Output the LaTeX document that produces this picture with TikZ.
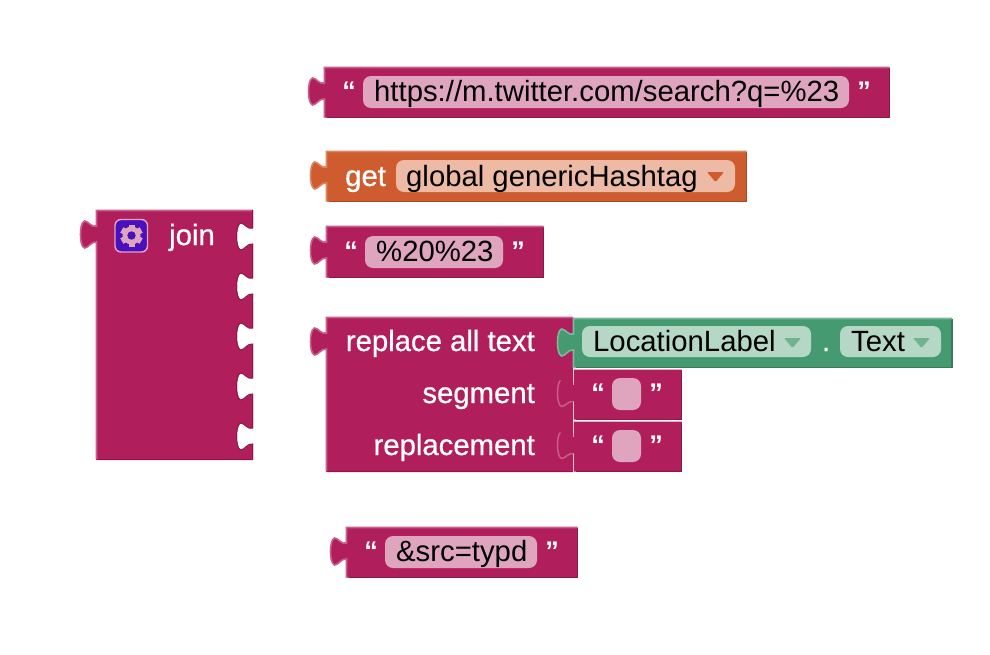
\documentclass[tikz,border=0pt]{standalone}
\usepackage{fontspec}
\setmainfont{Liberation Sans}
\newfontfamily\wfont[RawFeature={embolden=0.7}]{Liberation Sans}
\definecolor{txtb}{HTML}{B01F5B}
\definecolor{txtl}{HTML}{C9608C}
\definecolor{txtd}{HTML}{8C1848}
\definecolor{txtp}{HTML}{E0A5BE}
\definecolor{varb}{HTML}{CE5C2E}
\definecolor{varl}{HTML}{DD8560}
\definecolor{vard}{HTML}{A54A25}
\definecolor{varp}{HTML}{EDBBA5}
\definecolor{grnb}{HTML}{459A71}
\definecolor{grnl}{HTML}{7DB89B}
\definecolor{grnd}{HTML}{377B5A}
\definecolor{grnp}{HTML}{B5D7C6}
\definecolor{mutb}{HTML}{4A10BE}
\definecolor{arrg}{HTML}{6FB391}
\tikzset{
  x=1pt,y=-1pt,
  wlabel/.style={text=white,inner sep=0pt,font=\wfont\fontsize{29.3}{32}\selectfont},
  blabel/.style={text=black,inner sep=0pt,font=\fontsize{29.3}{32}\selectfont},
  quotemark/.style={text=white,inner sep=0pt,font=\bfseries\fontsize{27}{30}\selectfont},
  pill/.style={rounded corners=8pt},
}
% puzzle tab running downward, from (x,y) to (x,y+27) with bulb to the left
\newcommand{\tabdown}[2]{-- (#1,#2+5) .. controls ({#1-5},#2+7) and ({#1-8},#2) .. ({#1-12},#2) .. controls ({#1-15},#2+1) and ({#1-16},#2+8) .. ({#1-16},#2+13.5) .. controls ({#1-16},#2+19) and ({#1-15},#2+26) .. ({#1-12},#2+27) .. controls ({#1-8},#2+27) and ({#1-5},#2+20) .. (#1,#2+21) -- (#1,#2+27)}
% the same tab, running upward
\newcommand{\tabup}[2]{-- (#1,#2+21) .. controls ({#1-5},#2+20) and ({#1-8},#2+27) .. ({#1-12},#2+27) .. controls ({#1-15},#2+26) and ({#1-16},#2+19) .. ({#1-16},#2+13.5) .. controls ({#1-16},#2+8) and ({#1-15},#2+1) .. ({#1-12},#2) .. controls ({#1-8},#2) and ({#1-5},#2+7) .. (#1,#2+5) -- (#1,#2)}
% \plainblock{x1}{y1}{x2}{y2}{base}
\newcommand{\plainblock}[5]{%
  \fill[#5b] (#1,#2) -- (#3,#2) -- (#3,#4) -- (#1,#4) -- (#1,#2+37.5) \tabup{#1}{#2+10.5} -- cycle;
  \draw[#5d,line width=1.8pt] (#1+2,#4) -- (#3,#4) -- (#3,#2);
  \draw[#5l,line width=1.6pt] (#3,#2) -- (#1,#2) -- (#1,#2+10.5) \tabdown{#1}{#2+10.5} -- (#1,#4);
}
% child text block plugged into a socket
\newcommand{\childblock}[4]{%
  \fill[txtb] (#1,#2) -- (#3,#2) -- (#3,#4) -- (#1,#4) -- (#1,#2+37.5) \tabup{#1}{#2+10.5} -- cycle;
  \draw[txtd,line width=1.8pt] (#1+2,#4) -- (#3,#4) -- (#3,#2);
  \draw[txtl,line width=1.4pt] ({#1-13},#2+11) .. controls ({#1-15},#2+12) and ({#1-16},#2+18) .. ({#1-16},#2+24) .. controls ({#1-16},#2+29) and ({#1-15},#2+36) .. ({#1-12},#2+37) .. controls ({#1-8},#2+37) and ({#1-5},#2+31) .. (#1,#2+32);
  \draw[white!60!txtl,line width=1.2pt] (#1,#2) -- (#1,#2+12) (#1,#2+32) -- (#1,#4);
}
\newcommand{\pillarrow}[3]{\fill[#3,rounded corners=1pt] (#1,#2) -- (#1+17,#2) -- (#1+8.5,#2+10) -- cycle;}
\begin{document}
\begin{tikzpicture}
\useasboundingbox (0,0) rectangle (990,654);
\fill[white] (0,0) rectangle (990,654);

% URL text block
\plainblock{324.5}{67.5}{889.5}{117.5}{txt}
\fill[txtp,pill] (363,76) rectangle (849,108);
\node[blabel,anchor=base west] (url) at (374,101) {https://m.twitter.com/search?q=\%23};
\node[quotemark] (urlq1) at (349,91) {“};
\node[quotemark] (urlq2) at (864,91) {”};

% get block
\plainblock{326.5}{151.5}{746.5}{201.5}{var}
\fill[varp,pill] (396,160) rectangle (735,192);
\node[wlabel,anchor=base west] (get) at (345,186) {get};
\node[blabel,anchor=base west] (globalvar) at (406,186) {global genericHashtag};
\pillarrow{707}{172}{varb}

% %20%23 block
\plainblock{326.5}{226.5}{543.5}{277.5}{txt}
\fill[txtp,pill] (365,236) rectangle (503,268);
\node[blabel,anchor=base west] (sep) at (376,261) {\%20\%23};
\node[quotemark] (sepq1) at (351,251) {“};
\node[quotemark] (sepq2) at (518,251) {”};

% join block
\fill[txtb] (96,210) -- (253,210)
  -- (253,223) \tabdown{253}{223} -- (253,273) \tabdown{253}{273}
  -- (253,323) \tabdown{253}{323} -- (253,373) \tabdown{253}{373}
  -- (253,423) \tabdown{253}{423} -- (253,460) -- (96,460) -- (96,248)
  \tabup{96}{221} -- cycle;
\draw[txtl,line width=1.6pt] (253,210.5) -- (96.5,210.5) -- (96.5,221) \tabdown{96.5}{221} -- (96.5,459);
\draw[txtd,line width=1.6pt] (98,459.5) -- (252.5,459.5) -- (252.5,450);
\draw[txtd,line width=1pt] (252.5,210) -- (252.5,223) \tabdown{252.5}{223} -- (252.5,273) \tabdown{252.5}{273}
  -- (252.5,323) \tabdown{252.5}{323} -- (252.5,373) \tabdown{252.5}{373}
  -- (252.5,423) \tabdown{252.5}{423} -- (252.5,459);
\draw[txtp,fill=mutb,line width=1.4pt,rounded corners=6pt] (115,219.5) rectangle (147.5,252);
\foreach \a in {0,60,...,300}
  \fill[txtp,rotate around={\a:(131.5,235.5)}] (128.5,224.5) rectangle (134.5,246.5);
\fill[txtp] (131.5,235.5) circle[radius=9];
\fill[mutb] (131.5,235.5) circle[radius=4.2];
\node[wlabel,anchor=base west] (join) at (169,245) {join};

% replace all text block
\fill[txtb] (326,317) -- (573,317) -- (573,472) -- (326,472) -- (326,355)
  \tabup{326}{328} -- cycle;
\draw[txtl,line width=1.6pt] (573,317.5) -- (326.5,317.5) -- (326.5,328) \tabdown{326.5}{328} -- (326.5,471);
\draw[txtd,line width=1.6pt] (328,471.5) -- (573,471.5);
\node[wlabel,anchor=base east] (replace) at (535,351) {replace all text};
\node[wlabel,anchor=base east] (segment) at (535,403) {segment};
\node[wlabel,anchor=base east] (replacement) at (535,455) {replacement};

% segment text block
\childblock{573.5}{369.5}{681.5}{419.5}
\fill[txtp,pill] (612,378) rectangle (641,410);
\node[quotemark] (segq1) at (598,393) {“};
\node[quotemark] (segq2) at (656,393) {”};

% replacement text block
\childblock{573.5}{421.5}{681.5}{471.5}
\fill[txtp,pill] (612,430) rectangle (641,462);
\node[quotemark] (repq1) at (598,445) {“};
\node[quotemark] (repq2) at (656,445) {”};

% LocationLabel block
\plainblock{573.5}{318.5}{952}{367.5}{grn}
\fill[grnp,pill] (582,326) rectangle (811,357);
\fill[grnp,pill] (840,326) rectangle (941,357);
\node[blabel,anchor=base west] (loc) at (593,351) {LocationLabel};
\pillarrow{784}{338}{arrg}
\node[wlabel,anchor=base] (dot) at (826,351) {.};
\node[blabel,anchor=base west] (text) at (851,351) {Text};
\pillarrow{913}{338}{arrg}

% &src block
\plainblock{346.5}{527.5}{577.5}{577.5}{txt}
\fill[txtp,pill] (385,536) rectangle (537,568);
\node[blabel,anchor=base west] (src) at (396,561) {\&src=typd};
\node[quotemark] (srcq1) at (371,551) {“};
\node[quotemark] (srcq2) at (552,551) {”};
\end{tikzpicture}
\end{document}
